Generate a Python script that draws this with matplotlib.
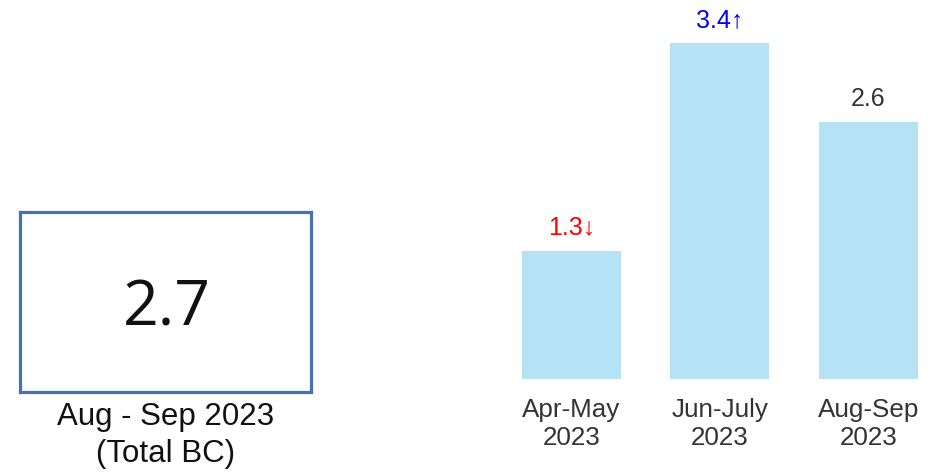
import matplotlib
matplotlib.use("Agg")
import matplotlib.pyplot as plt

# ---- data ----
periods = ["Apr-May\n2023", "Jun-July\n2023", "Aug-Sep\n2023"]
values = [1.3, 3.4, 2.6]
trend_marks = ["↓", "↑", ""]
label_colors = ["#FF0000", "#0000FF", "#333333"]
total_value = 2.7
total_caption = "Aug - Sep 2023\n(Total BC)"

W, H = 938, 475
DPI = 100
fig = plt.figure(figsize=(W / DPI, H / DPI), dpi=DPI)
fig.patch.set_facecolor("white")

def px_axes(x0, y0_top, x1, y1_top):
    return fig.add_axes([x0 / W, 1 - y1_top / H, (x1 - x0) / W, (y1_top - y0_top) / H])

FAM = ["Liberation Sans", "DejaVu Sans"]

# ---- left KPI box ----
axk = px_axes(20, 212, 311, 392)
axk.set_xticks([]); axk.set_yticks([])
axk.set_xlim(0, 1); axk.set_ylim(0, 1)
for s in axk.spines.values():
    s.set_color("#4472B4")
    s.set_linewidth(2.3)
axk.text(0.505, 0.46, f"{total_value}", ha="center", va="center",
         fontsize=45, family=["Open Sans", "DejaVu Sans"],
         color="#111111", transform=axk.transAxes)
axk.text(0.5, -0.055, total_caption, ha="center", va="top", fontsize=22.5,
         family=FAM, color="#111111", linespacing=1.3, transform=axk.transAxes)

# ---- bar chart ----
spacing_px, base_px = 148.5, 379
left_px = 497
axb = fig.add_axes([left_px / W, (H - base_px) / H, (W - left_px) / W, 376 / H])
xs = list(range(len(values)))
axb.bar(xs, values, width=0.667, color="#B5E3F5", edgecolor="none")
axb.set_xlim(-0.5, -0.5 + (W - left_px) / spacing_px)
axb.set_ylim(0, 376 / 98.8)
for s in axb.spines.values():
    s.set_visible(False)
axb.set_yticks([])
axb.set_xticks(xs)
axb.set_xticklabels(periods, fontsize=18.7, color="#333333", family=FAM, linespacing=1.2)
axb.tick_params(axis="x", length=0, pad=14)

for x, v, m, c in zip(xs, values, trend_marks, label_colors):
    axb.annotate(f"{v}{m}", xy=(x, v), xytext=(0, 11.5), textcoords="offset points",
                 ha="center", va="baseline", fontsize=18, color=c, family=FAM)

fig.savefig("out.png", dpi=DPI, facecolor="white")
